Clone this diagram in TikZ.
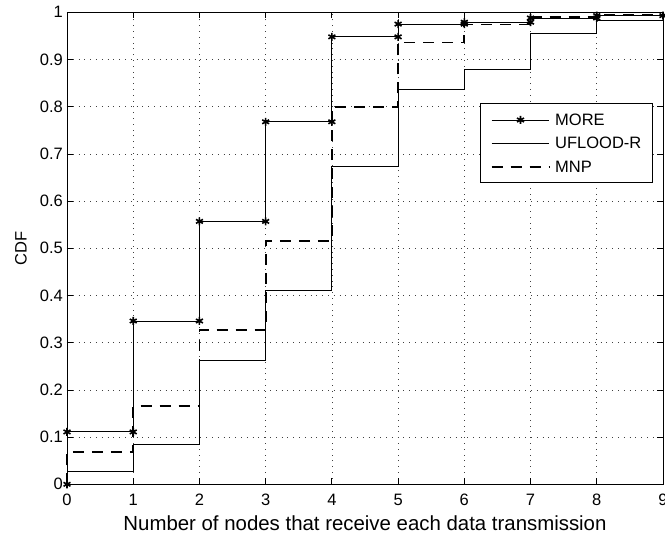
\documentclass[tikz,border=0pt]{standalone}
\usepackage{fontspec}
\setmainfont{Liberation Sans}
\usetikzlibrary{plotmarks}

\begin{document}
\begin{tikzpicture}[x=66.22pt,y=472pt]
            \tikzstyle{every node}+=[inner sep=0pt, font=\fontsize{16.5}{18}\selectfont]
            \tikzstyle{griddot}=[black!75, line width=0.6pt, dash pattern=on 0.8pt off 5pt]
            \tikzstyle{morecurve}=[black, line width=0.9pt, mark=asterisk, mark size=4pt, mark options={solid, line width=1.6pt}]
            \tikzstyle{floodcurve}=[black, line width=0.8pt]
            \tikzstyle{mnpcurve}=[black, line width=1.8pt, dash pattern=on 11pt off 8pt]
            \useasboundingbox (-67pt,-54.7pt) rectangle (598pt,484.3pt);
            % grid
            \foreach \i in {1,...,8} \draw [griddot] (\i,0) -- (\i,1);
            \foreach \j in {1,...,9} \draw [griddot] (0,\j/10) -- (9,\j/10);
            % curves
            \draw [mnpcurve] (0,0) -- (0,0.068) -- (1,0.068) -- (1,0.166) -- (2,0.166) -- (2,0.327) -- (3,0.327) -- (3,0.515) -- (4,0.515) -- (4,0.80) -- (5,0.80) -- (5,0.936) -- (6,0.936) -- (6,0.974) -- (7,0.974) -- (7,0.99) -- (8,0.99) -- (8,0.995) -- (9,0.995);
            \draw [floodcurve] (0,0) -- (0,0.027) -- (1,0.027) -- (1,0.085) -- (2,0.085) -- (2,0.263) -- (3,0.263) -- (3,0.41) -- (4,0.41) -- (4,0.673) -- (5,0.673) -- (5,0.837) -- (6,0.837) -- (6,0.878) -- (7,0.878) -- (7,0.955) -- (8,0.955) -- (8,0.983) -- (9,0.983);
            \draw [morecurve] plot coordinates {(0,0) (0,0.111) (1,0.111) (1,0.346) (2,0.346) (2,0.557) (3,0.557) (3,0.768) (4,0.768) (4,0.948) (5,0.948) (5,0.975) (6,0.975) (6,0.979) (7,0.979) (7,0.988) (8,0.988) (8,0.993) (9,0.993)};
            % axes
            \draw [black, line width=0.9pt] (0,0) rectangle (9,1);
            \foreach \i in {0,...,9} {
                \draw [black, line width=0.8pt] (\i,0) -- ++(0,6pt);
                \draw [black, line width=0.8pt] (\i,1) -- ++(0,-6pt);
                \node (xt\i) [anchor=north] at ([yshift=-9.7pt]\i,0) {\i};
            }
            \foreach \j/\t in {0/0,1/0.1,2/0.2,3/0.3,4/0.4,5/0.5,6/0.6,7/0.7,8/0.8,9/0.9,10/1} {
                \draw [black, line width=0.8pt] (0,\j/10) -- ++(6pt,0);
                \draw [black, line width=0.8pt] (9,\j/10) -- ++(-6pt,0);
                \node (yt\j) [anchor=east] at ([xshift=-4pt]0,\j/10) {\t};
            }
            \node (xlabel) [font=\fontsize{20.4}{22}\selectfont] at ([yshift=-38.7pt]4.5,0) {Number of nodes that receive each data transmission};
            \node (ylabel) [rotate=90] at ([xshift=-46pt]0,0.5) {CDF};
            % legend
            \node (legbox) [draw, fill=white, line width=0.9pt, minimum width=172pt, minimum height=79.4pt] at (499.7pt,341.3pt) {};
            \coordinate (moreL) at (424.7pt,364.3pt);
            \coordinate (moreM) at (453.5pt,364.3pt);
            \coordinate (moreR) at (482.3pt,364.3pt);
            \coordinate (floodL) at (424.7pt,341.3pt);
            \coordinate (floodR) at (482.3pt,341.3pt);
            \coordinate (mnpL) at (424.7pt,317.3pt);
            \coordinate (mnpR) at (482.3pt,317.3pt);
            \draw [black, line width=0.9pt] (moreL) -- (moreR);
            \draw [morecurve] plot coordinates {(moreM)};
            \draw [floodcurve] (floodL) -- (floodR);
            \draw [mnpcurve] (mnpL) -- (mnpR);
            \node (moretxt) [anchor=west] at (488pt,364.3pt) {MORE};
            \node (floodtxt) [anchor=west] at (488pt,341.3pt) {UFLOOD-R};
            \node (mnptxt) [anchor=west] at (488pt,317.3pt) {MNP};
        \end{tikzpicture}
\end{document}
